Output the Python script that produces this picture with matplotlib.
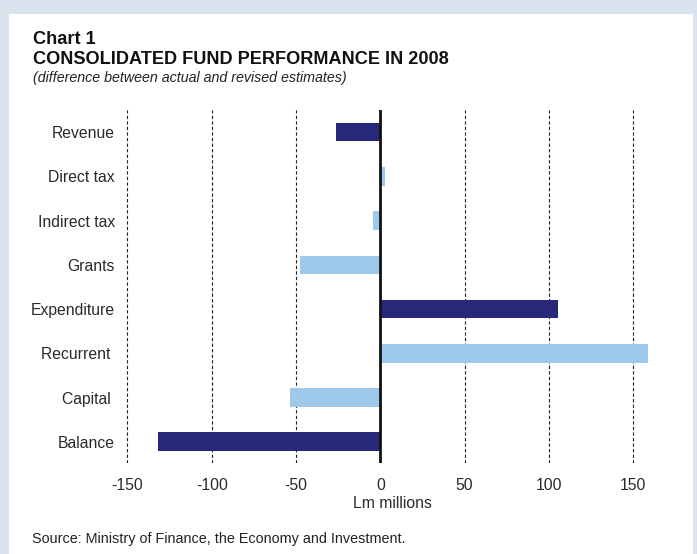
import matplotlib
matplotlib.use("Agg")
import matplotlib.pyplot as plt
from matplotlib.patches import Rectangle

plt.rcParams['font.family'] = ['Liberation Sans', 'DejaVu Sans']

# Difference between actual and revised estimates, Lm millions
categories = ["Revenue", "Direct tax", "Indirect tax", "Grants",
              "Expenditure", "Recurrent ", "Capital ", "Balance"]
values = [-26.2, 2.6, -4.2, -47.5, 105.6, 159.0, -53.4, -131.8]
is_total = [True, False, False, False, True, False, False, True]
xticks = [-150, -100, -50, 0, 50, 100, 150]

DARK = "#28287a"
LIGHT = "#9ec9ea"
BG = "#dbe3ee"

W, H = 697, 554
fig = plt.figure(figsize=(W / 100, H / 100), dpi=100)
fig.patch.set_facecolor(BG)

# white panel
fig.add_artist(Rectangle((9 / W, 0), (693 - 9) / W, 1 - 14 / H,
                         transform=fig.transFigure, facecolor="white",
                         edgecolor="none", zorder=0))

ax_left, ax_right = 124.0, 660.3
ax_top, ax_bottom = 110.0, 463.0
ax = fig.add_axes([ax_left / W, 1 - ax_bottom / H,
                   (ax_right - ax_left) / W, (ax_bottom - ax_top) / H])
ax.set_facecolor("none")

ypos = list(range(len(categories)))
colors = [DARK if t else LIGHT for t in is_total]
ax.barh(ypos, values, height=0.42, color=colors, zorder=3)

for x in xticks:
    if x == 0:
        continue
    ax.axvline(x, color="#222222", linewidth=0.8, linestyle=(0, (3, 2)), zorder=1)
ax.axvline(0, color="#111111", linewidth=2.0, zorder=4)

ax.set_xlim(-152, 166)
ax.set_ylim(7.48, -0.5)
ax.set_xticks(xticks)
ax.set_xticklabels([str(x) for x in xticks])
ax.set_yticks(ypos)
ax.set_yticklabels(categories)
ax.tick_params(axis="both", length=0, labelsize=11.3, colors="#2a2a2a")
ax.tick_params(axis="x", pad=11)
ax.tick_params(axis="y", pad=6.5)
for s in ax.spines.values():
    s.set_visible(False)
ax.set_xlabel("Lm millions", fontsize=11.3, color="#2a2a2a", labelpad=2)

fig.text(33 / W, 1 - 39 / H, "Chart 1", fontsize=13.1, fontweight="bold",
         color="#111111", va="center", ha="left")
fig.text(33 / W, 1 - 59 / H, "CONSOLIDATED FUND PERFORMANCE IN 2008",
         fontsize=13.1, fontweight="bold", color="#111111", va="center", ha="left")
fig.text(33 / W, 1 - 78 / H, "(difference between actual and revised estimates)",
         fontsize=10.3, fontstyle="italic", color="#222222", va="center", ha="left")
fig.text(32 / W, 1 - 539 / H,
         "Source: Ministry of Finance, the Economy and Investment.",
         fontsize=10.4, color="#222222", va="center", ha="left")

fig.savefig("out.png", dpi=100, facecolor=fig.get_facecolor())
